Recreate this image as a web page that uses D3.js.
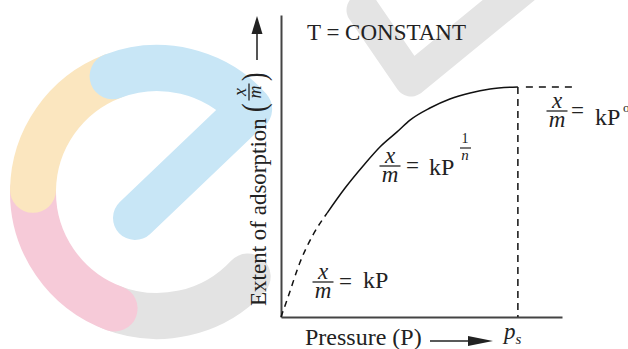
<!DOCTYPE html>
<html>
<head>
<meta charset="utf-8">
<script src="https://cdn.jsdelivr.net/npm/d3@7"></script>
<style>
	body { margin: 0; background: #fff; }
	#chart text { font-family: "Liberation Serif", "Times New Roman", Tinos, serif; }
</style>
</head>
<body>
<svg id="chart" width="628" height="349"></svg>
<script>
// Freundlich isotherm, values (arbitrary units, 0-100)
const pressure = [0, 2.5, 6.8, 11.4, 16.4, 22.8, 29.2, 35.2, 41.3, 45.9, 53.0, 60.1, 67.3, 74.4, 84.3];
const extent   = [0, 6.6, 18.2, 27.2, 34.4, 42.7, 50.0, 56.3, 61.3, 65.2, 69.2, 72.2, 74.2, 75.5, 76.2];
const linearRegionEnd = 16.4;      // below this the curve is drawn dashed (x/m = kP)
const saturationPressure = 84.3;   // p_s
const saturationEnd = 103.6;       // end of the dashed plateau

const title = 'T = CONSTANT';
const xLabel = 'Pressure (P)';
const yLabel = 'Extent of adsorption';

// watermark arcs: [start deg, end deg, colour], drawn in this order
const logoArcs = [
	[43, 112, '#e3e3e3'],
	[181, 110, '#f6cad8'],
	[249, 181, '#fbe6bf'],
	[249, 318, '#c8e6f6']
];

const serifFont = '"Liberation Serif", "Times New Roman", Tinos, serif';

class IsothermChart {
	constructor(_config) {
		this.config = {
			parentElement: _config.parentElement,
			containerWidth: _config.width,
			containerHeight: _config.height,
			margin: { top: 15, right: 66, bottom: 32, left: 281 }
		};
		this.initVis();
	}

	initVis() {
		let vis = this;

		vis.config.width = vis.config.containerWidth - vis.config.margin.left - vis.config.margin.right;
		vis.config.height = vis.config.containerHeight - vis.config.margin.top - vis.config.margin.bottom;

		vis.svg = d3.select(vis.config.parentElement)
			.attr('width', vis.config.containerWidth)
			.attr('height', vis.config.containerHeight);

		vis.drawWatermark();

		vis.chartArea = vis.svg.append('g')
			.attr('transform', `translate(${vis.config.margin.left},${vis.config.margin.top})`);

		vis.xScale = d3.scaleLinear().domain([0, 100]).range([0, vis.config.width]);
		vis.yScale = d3.scaleLinear().domain([0, 100]).range([vis.config.height, 0]);

		// axes without ticks, only the two lines
		vis.xAxis = d3.axisBottom(vis.xScale).tickValues([]).tickSizeOuter(0);
		vis.yAxis = d3.axisLeft(vis.yScale).tickValues([]).tickSizeOuter(0);

		vis.xAxisG = vis.chartArea.append('g')
			.attr('class', 'axis x-axis')
			.attr('transform', `translate(0,${vis.config.height})`);
		vis.yAxisG = vis.chartArea.append('g')
			.attr('class', 'axis y-axis');

		vis.renderVis();
	}

	drawWatermark() {
		let vis = this;
		const cx = 157, cy = 192, r = 124, w = 46;
		const rad = d => d * Math.PI / 180;

		// grey V behind the title
		vis.svg.append('path')
			.attr('d', 'M363,10L411,80L565,-46')
			.attr('fill', 'none')
			.attr('stroke', '#e4e4e4')
			.attr('stroke-width', 33)
			.attr('stroke-linecap', 'round')
			.attr('stroke-linejoin', 'round');

		logoArcs.forEach(a => {
			const p = d3.path();
			p.arc(cx, cy, r, rad(a[0]), rad(a[1]), a[1] < a[0]);
			vis.svg.append('path')
				.attr('d', p.toString())
				.attr('fill', 'none')
				.attr('stroke', a[2])
				.attr('stroke-width', w)
				.attr('stroke-linecap', 'round');
		});

		// cross stroke of the "e"
		vis.svg.append('line')
			.attr('x1', cx + r * Math.cos(rad(318)))
			.attr('y1', cy + r * Math.sin(rad(318)))
			.attr('x2', 135)
			.attr('y2', 218)
			.attr('stroke', '#c8e6f6')
			.attr('stroke-width', 44)
			.attr('stroke-linecap', 'round');
	}

	// serif text helper
	label(g, x, y, size, str) {
		return g.append('text')
			.attr('x', x).attr('y', y)
			.attr('font-size', size)
			.attr('font-family', serifFont)
			.text(str);
	}

	// x over m, centred on cx with the bar at barY (one text, two tspans)
	fraction(g, cx, barY, size, barW) {
		const t = this.label(g, cx, barY - 3, size, null)
			.attr('text-anchor', 'middle')
			.attr('font-style', 'italic');
		t.append('tspan').attr('x', cx).attr('y', barY - 3).text('x');
		t.append('tspan').attr('x', cx).attr('y', barY + size * 0.68).text('m');
		g.append('line')
			.attr('x1', cx - barW / 2).attr('x2', cx + barW / 2)
			.attr('y1', barY).attr('y2', barY)
			.attr('stroke', '#222').attr('stroke-width', 1.3);
	}

	renderVis() {
		let vis = this;
		const pts = pressure.map((p, i) => [p, extent[i]]);

		const line = d3.line()
			.x(d => vis.xScale(d[0]))
			.y(d => vis.yScale(d[1]))
			.curve(d3.curveMonotoneX);

		vis.chartArea.append('path')
			.datum(pts.filter(d => d[0] <= linearRegionEnd))
			.attr('d', line)
			.attr('fill', 'none')
			.attr('stroke', '#111')
			.attr('stroke-width', 1.5)
			.attr('stroke-dasharray', '6,5');

		vis.chartArea.append('path')
			.datum(pts.filter(d => d[0] >= linearRegionEnd))
			.attr('d', line)
			.attr('fill', 'none')
			.attr('stroke', '#111')
			.attr('stroke-width', 1.5);

		const top = extent[extent.length - 1];

		// p_s drop line and plateau
		vis.chartArea.append('line')
			.attr('x1', vis.xScale(saturationPressure)).attr('x2', vis.xScale(saturationPressure))
			.attr('y1', vis.yScale(top)).attr('y2', vis.yScale(0))
			.attr('stroke', '#111').attr('stroke-width', 1.5)
			.attr('stroke-dasharray', '7,5');
		vis.chartArea.append('line')
			.attr('x1', vis.xScale(saturationPressure) + 8).attr('x2', vis.xScale(saturationEnd))
			.attr('y1', vis.yScale(top)).attr('y2', vis.yScale(top))
			.attr('stroke', '#111').attr('stroke-width', 1.5)
			.attr('stroke-dasharray', '7,6');

		vis.xAxisG.call(vis.xAxis);
		vis.yAxisG.call(vis.yAxis);
		vis.svg.selectAll('.axis .domain')
			.attr('stroke', '#444')
			.attr('stroke-width', 2);

		const g = vis.svg.append('g').attr('fill', '#222');

		vis.label(g, 307, 40, 23, title);

		// x label with arrow
		vis.label(g, 305, 345, 24, xLabel);
		g.append('line')
			.attr('x1', 430).attr('x2', 472).attr('y1', 341).attr('y2', 341)
			.attr('stroke', '#222').attr('stroke-width', 1.5);
		g.append('path').attr('d', 'M468,336L493,341L468,346Z');

		const ps = vis.label(g, vis.config.margin.left + vis.xScale(saturationPressure) - 14, 339, 23, null)
			.attr('font-style', 'italic');
		ps.append('tspan').text('p');
		ps.append('tspan').attr('font-size', 15).attr('dy', 5).text('s');

		// y label, rotated, with arrow
		const yl = g.append('g').attr('transform', 'translate(266,306) rotate(-90)');
		vis.label(yl, 0, 0, 23, yLabel);
		vis.label(yl, 0, 0, 34, '(')
			.attr('transform', 'translate(194,-1) scale(0.75,1)');
		vis.label(yl, 0, 0, 34, ')')
			.attr('transform', 'translate(225,-1) scale(0.75,1)');
		vis.fraction(yl, 214, -17, 18, 17);

		g.append('line')
			.attr('x1', 257).attr('x2', 257).attr('y1', 60).attr('y2', 30)
			.attr('stroke', '#555').attr('stroke-width', 2);
		g.append('path').attr('d', 'M257,16L251.5,34L262.5,34Z');

		// formula: x/m = kP (low pressure)
		vis.fraction(g, 323, 282, 23, 21);
		vis.label(g, 339, 289, 23, '=');
		vis.label(g, 363, 288, 24, 'kP');

		// formula: x/m = kP^(1/n)
		vis.fraction(g, 390, 166, 23, 21);
		vis.label(g, 406, 173, 23, '=');
		vis.label(g, 429, 175, 24, 'kP');
		vis.label(g, 465, 143, 14, '1').attr('text-anchor', 'middle');
		g.append('line').attr('x1', 460).attr('x2', 471).attr('y1', 148).attr('y2', 148)
			.attr('stroke', '#222').attr('stroke-width', 1.2);
		vis.label(g, 465, 160, 15, 'n')
			.attr('text-anchor', 'middle').attr('font-style', 'italic');

		// formula: x/m = kP^0 (saturation)
		vis.fraction(g, 557, 111, 23, 21);
		vis.label(g, 571, 118, 23, '=');
		vis.label(g, 595, 125, 24, 'kP');
		vis.label(g, 623, 112, 13, 'o');
	}
}

const isotherm = new IsothermChart({ parentElement: '#chart', width: 628, height: 349 });
</script>
</body>
</html>
